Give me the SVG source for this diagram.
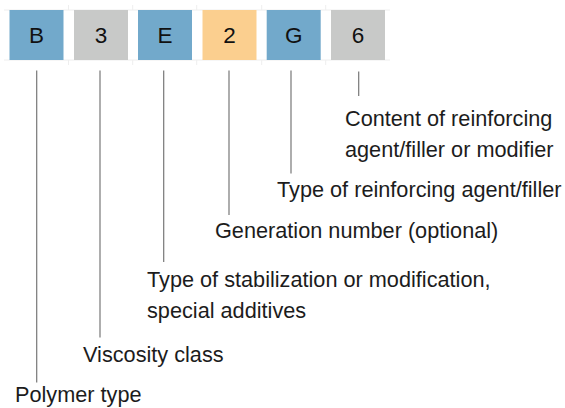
<svg xmlns="http://www.w3.org/2000/svg" width="565" height="408" viewBox="0 0 565 408">
<style>
.box text{font-family:"Liberation Sans",Arial,sans-serif;font-size:22.5px;fill:#111;text-anchor:middle}
.lbl{font-family:"Liberation Sans",Arial,sans-serif;font-size:21.7px;fill:#1c1c1c}
.blue{fill:#72A9CB}.gray{fill:#C8C9C8}.orange{fill:#FBCF8F}
.con line{stroke:#777;stroke-width:1.2}
.grid line{stroke:#EEEEEE;stroke-width:1}
</style>
<rect width="565" height="408" fill="#fff"/>
<g class="grid">
<line x1="4" y1="10" x2="390" y2="10"/>
<line x1="4" y1="60" x2="390" y2="60"/>
<line x1="68.5" y1="5" x2="68.5" y2="10"/><line x1="68.5" y1="60" x2="68.5" y2="65"/>
<line x1="132.7" y1="5" x2="132.7" y2="10"/><line x1="132.7" y1="60" x2="132.7" y2="65"/>
<line x1="196.7" y1="5" x2="196.7" y2="10"/><line x1="196.7" y1="60" x2="196.7" y2="65"/>
<line x1="261.7" y1="5" x2="261.7" y2="10"/><line x1="261.7" y1="60" x2="261.7" y2="65"/>
<line x1="325.7" y1="5" x2="325.7" y2="10"/><line x1="325.7" y1="60" x2="325.7" y2="65"/>
</g>
<g id="node-B" class="box"><rect class="blue" x="9.5" y="10" width="54" height="50"/><text x="36.5" y="43">B</text></g>
<g id="node-3" class="box"><rect class="gray" x="74" y="10" width="54" height="50"/><text x="101" y="43">3</text></g>
<g id="node-E" class="box"><rect class="blue" x="138" y="10" width="54" height="50"/><text x="165" y="43">E</text></g>
<g id="node-2" class="box"><rect class="orange" x="202.5" y="10" width="54" height="50"/><text x="229.5" y="43">2</text></g>
<g id="node-G" class="box"><rect class="blue" x="266.7" y="10" width="54" height="50"/><text x="293.7" y="43">G</text></g>
<g id="node-6" class="box"><rect class="gray" x="331" y="10" width="54" height="50"/><text x="358" y="43">6</text></g>
<g class="con">
<line x1="36.7" y1="70.5" x2="36.7" y2="382.5"/>
<line x1="100" y1="70.5" x2="100" y2="337.5"/>
<line x1="163.7" y1="70.5" x2="163.7" y2="262"/>
<line x1="229" y1="70.5" x2="229" y2="215"/>
<line x1="291" y1="70.5" x2="291" y2="173.5"/>
<line x1="358.7" y1="71.5" x2="358.7" y2="96"/>
</g>
<g id="label-6"><text class="lbl" x="345" y="126">Content of reinforcing</text><text class="lbl" x="345" y="156.5">agent/filler or modifier</text></g>
<g id="label-G"><text class="lbl" x="277" y="197">Type of reinforcing agent/filler</text></g>
<g id="label-2"><text class="lbl" x="215" y="237.5">Generation number (optional)</text></g>
<g id="label-E"><text class="lbl" x="147" y="286.5">Type of stabilization or modification,</text><text class="lbl" x="147" y="318">special additives</text></g>
<g id="label-3"><text class="lbl" x="83" y="362">Viscosity class</text></g>
<g id="label-B"><text class="lbl" x="15" y="402">Polymer type</text></g>
</svg>
